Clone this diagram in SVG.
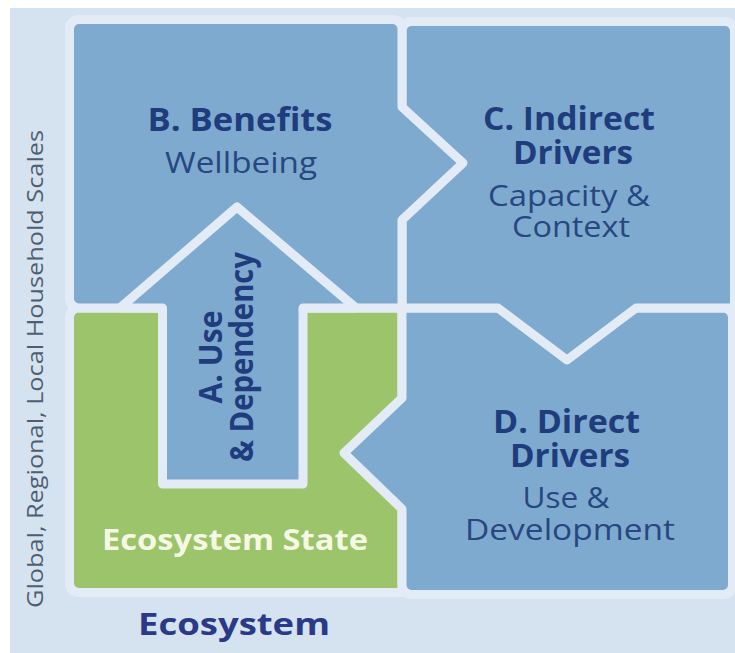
<svg xmlns="http://www.w3.org/2000/svg" width="735" height="653" viewBox="0 0 735 653">
<style>
.panel{fill:#7eaad0;stroke:#e3ecf6;stroke-width:9;stroke-linejoin:round}
.green{fill:#9cc46b;stroke:#e3ecf6;stroke-width:9;stroke-linejoin:round}
text{font-family:"Open Sans","Noto Sans",sans-serif;text-anchor:middle}
.t{font-weight:700;fill:#1f3c7c;font-size:32px}
.s{font-weight:400;fill:#27477f;font-size:29px}
</style>
<rect x="0" y="0" width="735" height="653" fill="#ffffff"/>
<rect x="10" y="8" width="725" height="645" fill="#d5e3f0"/>
<g id="ecosystem-state">
<path class="green" d="M79,308 H402 V592.5 H79 a9.5,9.5 0 0 1 -9.5,-9.5 V317.5 a9.5,9.5 0 0 1 9.5,-9.5 Z"/>
<text x="235" y="550" font-weight="700" font-size="28" fill="#f5f9e4" textLength="266" lengthAdjust="spacingAndGlyphs">Ecosystem State</text>
</g>
<g id="d-direct-drivers">
<path class="panel" d="M402,308 H723 a9.5,9.5 0 0 1 9.5,9.5 V585 a9.5,9.5 0 0 1 -9.5,9.5 H411.5 a9.5,9.5 0 0 1 -9.5,-9.5 V509 L344,453 L402,398 Z"/>
<text class="t" x="566.5" y="433" textLength="147" lengthAdjust="spacingAndGlyphs">D. Direct</text>
<text class="t" x="570" y="467" textLength="120" lengthAdjust="spacingAndGlyphs">Drivers</text>
<text class="s" x="566" y="508" textLength="87" lengthAdjust="spacingAndGlyphs">Use &amp;</text>
<text class="s" x="570" y="540" textLength="210" lengthAdjust="spacingAndGlyphs">Development</text>
</g>
<g id="c-indirect-drivers">
<path class="panel" d="M411.5,21.5 H725 a9.5,9.5 0 0 1 9.5,9.5 V308 H636 L567,360 L498,308 H402 V31 a9.5,9.5 0 0 1 9.5,-9.5 Z"/>
<text class="t" x="569" y="130" textLength="172" lengthAdjust="spacingAndGlyphs">C. Indirect</text>
<text class="t" x="573" y="164" textLength="120" lengthAdjust="spacingAndGlyphs">Drivers</text>
<text class="s" x="569" y="206" textLength="162" lengthAdjust="spacingAndGlyphs">Capacity &amp;</text>
<text class="s" x="571" y="237" textLength="118" lengthAdjust="spacingAndGlyphs">Context</text>
</g>
<g id="b-benefits">
<path class="panel" d="M79,19.5 H392.5 a9.5,9.5 0 0 1 9.5,9.5 V107 L463,163 L402,220 V308 H79 a9.5,9.5 0 0 1 -9.5,-9.5 V29 a9.5,9.5 0 0 1 9.5,-9.5 Z"/>
<text class="t" x="240" y="131" textLength="185" lengthAdjust="spacingAndGlyphs">B. Benefits</text>
<text class="s" x="241" y="173" textLength="152" lengthAdjust="spacingAndGlyphs">Wellbeing</text>
</g>
<g id="connectors">
<g id="a-use-dependency">
<path class="panel" d="M162.5,484 V308 H120 L237,207 L356,308 H303 V484 Z"/>
<text class="t" transform="translate(222,357) rotate(-90)" font-size="30" textLength="93" lengthAdjust="spacingAndGlyphs">A. Use</text>
<text class="t" transform="translate(253,357) rotate(-90)" font-size="30" textLength="210" lengthAdjust="spacingAndGlyphs">&amp; Dependency</text>
</g>
</g>
<g id="labels">
<text transform="translate(43,369) rotate(-90)" font-size="21" fill="#4e5e70" textLength="478" lengthAdjust="spacingAndGlyphs">Global, Regional, Local Household Scales</text>
<text x="234" y="635" font-weight="700" font-size="31" fill="#2a3a86" textLength="192" lengthAdjust="spacingAndGlyphs">Ecosystem</text>
</g>
</svg>
